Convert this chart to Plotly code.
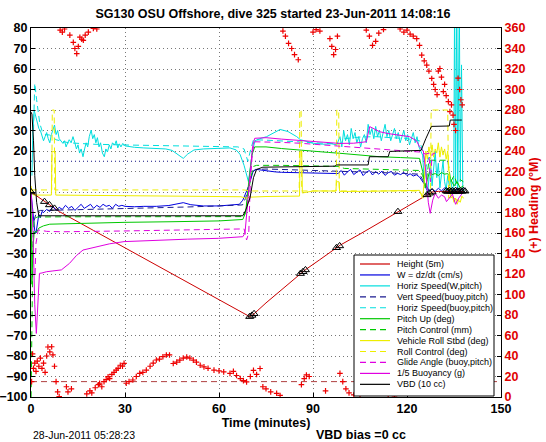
import plotly.graph_objects as go

# ---------------- data ----------------
TITLE = "SG130 OSU Offshore, dive 325 started 23-Jun-2011 14:08:16"
X_TICKS = [0, 30, 60, 90, 120, 150]

# Height (5m): (minutes, value)
HEIGHT = [(0, 0), (4.3, -4.7), (5.9, -6.3), (7.5, -8), (9.1, -9.6), (20, -18.8), (30, -27.2),
          (40, -35.7), (50, -44.1), (60, -52.6), (69.8, -60.8), (70.5, -60.2), (71.2, -59.4),
          (75, -54.1), (80, -47.6), (86.8, -38.9), (87.5, -38), (92, -33.2), (98, -26.7),
          (98.7, -25.9), (105, -20.5), (111.4, -14.8), (117.1, -9.6), (121, -6), (125.1, -2.3),
          (127.2, -0.6), (128, 0), (130, 0.3), (132, 0.2), (134, 0.4), (136, 0.3), (138.5, 0.2)]
# triangle markers on the height trace
HEIGHT_MARKS = [(0, 0), (4.3, -4.7), (5.9, -6.3), (7.5, -8), (69.8, -60.8), (70.5, -60.2),
                (71.2, -59.4), (86.0, -39.8), (86.8, -38.9), (87.6, -38), (97.5, -27.2),
                (98.5, -26.3), (117.1, -9.6), (126.4, -1.4), (127.2, -0.6), (128.0, 0),
                (132.5, 0.5), (133.0, 0.2), (133.5, 0.6), (134.0, 0.3), (134.5, 0.5), (135.0, 0.1),
                (135.5, 0.6), (136.0, 0.4), (136.5, 0.2), (137.0, 0.5), (137.5, 0.3), (138.0, 0.6),
                (138.5, 0.4)]

# W = dz/dt (cm/s)
W = [(0, 0), (0.4, -6), (0.8, -14), (1.2, -19), (1.6, -20), (2.0, -15), (2.5, -11), (3, -12.5),
     (3.5, -9.5), (4, -10), (5, -8.5), (6, -9.5), (7, -7), (8, -9), (9, -7.5), (10, -8.5),
     (11, -6.5), (12, -8), (13, -7), (14, -9), (15, -7.5), (16, -6), (17, -8), (18, -7),
     (19, -6), (20, -8), (21, -6.5), (22, -7.5), (23, -6), (24, -7), (25, -6.5), (26, -8),
     (27, -6), (28, -7), (29, -6.5), (30, -7), (33, -7.2), (36, -7), (40, -7), (44, -6.6),
     (46, -6), (48.6, -5.2), (51, -6.2), (55, -6.8), (60, -6.8), (64, -6.5), (66.5, -6),
     (67.6, -4), (68.5, -1), (69.4, 2.6), (70.2, 6.5), (70.9, 10.2), (72, 11), (74, 10.5),
     (76, 10), (78, 9.8), (80, 9.6), (83, 9.5), (86, 9.3), (89, 9.2), (92, 9), (95, 9.1),
     (98, 9), (99, 10.5), (100, 8.2), (101, 9.8), (102, 11), (103, 8.5), (104, 9.5),
     (105, 10.8), (106, 8), (107, 9.6), (108, 10.5), (109, 8.3), (110, 9.9), (111, 8.7),
     (112, 10.2), (113, 8.1), (114, 9.4), (115, 10), (116, 8.2), (117, 9.1), (118, 8.5),
     (119, 9.6), (120, 8), (121, 8.9), (122, 7.8), (123, 8.4), (124, 7.3), (125, 5),
     (125.6, 3.7), (126.3, 1), (127, 0.5), (128, 1.5), (129, 0.3), (130, 1.8), (131, 0.6),
     (132, 2), (133, 0.8), (134, 1.2), (135, 0.4), (136, 1.5), (137, 0.6), (138, 1.8)]

# Horiz Speed (W,pitch)
HSPD = [(0.3, 8), (0.6, 30), (1.0, 40), (1.5, 37), (2.0, 35), (2.5, 31), (3.0, 30), (3.5, 27),
        (4.0, 25), (4.5, 27), (5.0, 29), (5.5, 26), (6.0, 24), (6.5, 28), (7.0, 30), (7.5, 32.7),
        (8.0, 28), (8.5, 30), (9.0, 26), (9.5, 25), (10.2, 23.7), (10.7, 25), (11.2, 22),
        (11.7, 24), (12.2, 25.5), (12.8, 24), (13.4, 27), (14.0, 24), (14.5, 21), (15.0, 23),
        (15.5, 19), (16.0, 21), (16.6, 17.2), (17.1, 21), (17.6, 24), (18.1, 22), (18.6, 27),
        (19.2, 30.2), (19.7, 26), (20.2, 28), (20.7, 24), (21.2, 26.5), (21.7, 22), (22.2, 24),
        (22.8, 19), (23.4, 17.2), (23.9, 21), (24.4, 19.5), (25.0, 23), (25.5, 21), (26.0, 24),
        (26.7, 22.9), (27.2, 25), (27.7, 21.5), (28.2, 23.5), (28.7, 22), (29.3, 23.7),
        (30, 22.5), (33, 21.8), (36, 21.5), (40, 21.3), (43, 21), (45, 20.3), (47, 18.2),
        (48.6, 16.4), (50, 18.5), (52, 20.5), (55, 21), (60, 21.2), (63.5, 21.5), (65.5, 20.5),
        (66.7, 18.4), (68, 13), (69.4, 5), (70, 12), (70.7, 20), (71.5, 25), (73, 26),
        (75.2, 27), (77, 28.5), (79.5, 30.5), (82, 29.5), (84.8, 27), (86, 25.5), (88, 24.5),
        (90, 23.8), (93, 23.3), (96, 23.5), (97.6, 23), (98.6, 27), (99.2, 22), (99.8, 30),
        (100.4, 25), (101, 28), (101.6, 23), (102.2, 31), (102.8, 26), (103.4, 29), (104, 24),
        (104.6, 27), (105.2, 22), (105.8, 26), (106.4, 28), (107, 24), (107.6, 33), (108.2, 28),
        (108.8, 31), (109.4, 26), (110, 32), (110.6, 27), (111.2, 30), (111.8, 25), (112.4, 29),
        (113, 33), (113.6, 27), (114.2, 30), (114.8, 25), (115.4, 28), (116, 31), (116.6, 26),
        (117.2, 29), (117.8, 24), (118.4, 27), (119, 30), (119.6, 25), (120.2, 28), (120.8, 23),
        (121.4, 26), (122, 29), (122.6, 24), (123.2, 27), (123.8, 22), (124.4, 20), (125, 18),
        (125.5, 5), (126, 12), (126.5, -2), (127, 8), (127.5, 15), (128, 3), (128.5, 10),
        (129, 20), (129.5, 7), (130, 14), (130.5, 2), (131, 9), (131.5, 15), (132, 5),
        (132.5, 1), (133, 8), (133.5, 3), (134, 6), (134.5, 0), (134.9, 2), (135.2, 95),
        (135.5, 3), (135.9, 95), (136.2, 1), (136.7, 95), (137.0, 5), (137.4, 62), (137.8, 2),
        (138.2, 0)]

# Vert Speed (buoy,pitch)
VSPD_B = [(1.0, -14), (1.5, -11), (2.2, -9.5), (3, -9), (10, -8.8), (20, -8.5), (30, -8.2),
          (40, -7.8), (50, -7.3), (60, -6.8), (67.5, -6.3), (68.5, -3), (69.5, 3), (70.5, 9),
          (71.5, 11), (75, 11.2), (80, 11), (85, 10.8), (90, 10.5), (95, 10.3), (98, 10.2),
          (105, 9.8), (110, 9.5), (115, 9.3), (120, 9), (124, 8.7), (125, 6), (126, 3), (127, 1)]

# Horiz Speed (buoy,pitch)
HSPD_B = [(0.8, 30), (1.2, 53), (1.8, 45), (2.3, 38), (2.8, 33.5), (3.5, 30), (4.5, 28),
          (5.9, 27.8), (8, 25.5), (12, 24), (20, 23.3), (31.5, 22.9), (40, 22.6), (50, 22.4),
          (60, 22.2), (66, 22), (68, 21), (69.2, 15), (70, 20), (71, 25.5), (75, 25.3), (80, 25),
          (85, 24.5), (90, 24), (95, 23.5), (98.6, 23.5), (100, 26), (105, 26.8), (110, 27),
          (115, 26.5), (120, 26), (124, 25), (125, 20), (126, 12), (127, 17), (128, 16)]

# Pitch Up (deg)
PITCH = [(0, 0), (0.3, -45), (0.6, -28), (1.0, -20), (1.5, -19), (1.8, -19.7), (2.5, -17.6),
         (4, -16.5), (6, -15.7), (10, -15.5), (20, -15.2), (30, -14.8), (45, -14.5), (60, -14.1),
         (67.6, -13.4), (68.5, -10), (69.5, 5), (70.5, 18), (71.4, 22), (75, 22), (80, 21.2),
         (84.7, 20.5), (90, 19.8), (95, 19.3), (98.5, 18.9), (105, 18), (111.3, 17.2),
         (118, 16.8), (124, 16.4), (125, 10), (125.8, 2), (126.5, 6), (127.2, 10), (128, 8.5),
         (129, 9), (130, 8), (131, 9.5), (132, 8.7), (133, 9), (134, 6), (135, 3), (136, 5),
         (137, 2), (138, 3)]

# Pitch Control (mm)
PITCH_CTL = [(0, -105), (0.3, -60), (0.6, -25), (1.0, -13), (2, -12.2), (10, -12.1), (30, -12.1),
             (60, -12), (68, -12), (69, -6), (70, 6), (71, 12.5), (72, 13), (80, 13), (90, 12.8),
             (98, 12.5), (100, 11.5), (110, 11), (120, 10.8), (124, 10.5), (125, 8), (126, 3),
             (127, 15.5), (133, 15.5), (134, 5), (135, 8), (136, 4), (137, 6), (138, 5)]

# Vehicle Roll Stbd (deg)
ROLL = [(0, 3), (0.5, -1), (1, -1.5), (3, -1.5), (6.5, -1.5), (6.7, 19.7), (7.7, 19.7),
        (7.9, -1.5), (15, -1.5), (30, -1.8), (45, -2), (60, -2.2), (67, -2.3), (68.5, -3),
        (70, -2.5), (75, -2.2), (80, -2), (85.7, -2), (85.9, 19.9), (86.4, 19.9), (86.6, -0.5),
        (90, 0.5), (97.3, 0.5), (97.5, 5), (98.3, 5), (98.5, 0.3), (105, 0.3), (110, 0.5),
        (115, 0.5), (120, 1), (124, 0.8), (125, -3), (125.5, 5), (126, 20), (126.5, 16),
        (127, 22), (127.5, 18), (128, 23), (128.5, 17), (129, 21), (129.5, 19), (130, 24),
        (130.5, 17), (131, 22), (131.5, 18), (132, 21), (132.5, 16), (133, 20), (133.5, 5),
        (134, -3), (134.5, -2), (135, -5), (135.5, -3), (136, -6), (136.5, -4), (137, -5),
        (137.5, -2), (138, -3)]

# Roll Control (deg)
ROLL_CTL = [(0, 1), (6.6, 1), (6.8, 40), (7.4, 40), (7.6, 1), (68, 1), (70, 0.5), (85.6, 0.5),
            (85.8, 40), (86.2, 40), (86.4, 0.5), (97.4, 0.5), (97.6, 40), (98.2, 40), (98.4, 0.5),
            (124, 0.5), (125, -2), (127.5, -2), (127.7, 40), (133, 40), (133.3, -3), (134, -2),
            (136, -4), (138, -3)]

# Glide Angle (buoy,pitch)
GLIDE = [(1.3, -40), (1.6, -25), (2.3, -18.5), (5, -19.2), (10, -19.4), (20, -19.3), (30, -19),
         (45, -18.6), (60, -18.3), (68, -18), (68.8, -23.4), (69.5, -20), (70, 5), (70.7, 20),
         (71.5, 24.5), (75, 24.5), (80, 24.2), (85.7, 23.8), (90, 23.3), (95, 22.8),
         (98.5, 22.3), (105, 21.5), (110, 21), (115, 20.5), (120, 20), (124, 19.5), (125, 19),
         (126, 18.5), (127, 19), (127.5, 5), (128, 18.4), (129, 19)]

# 1/5 Buoyancy (g)
BUOY = [(0, 0), (0.4, -8), (0.8, -30), (1.2, -55), (1.7, -69), (2.2, -50), (2.7, -39.7),
        (3.5, -39.5), (4.9, -38.9), (7, -38.5), (9.7, -38), (12.3, -34.8), (14.5, -31),
        (16.6, -28.3), (20.8, -26.7), (25, -25.3), (29.7, -24.2), (35, -23.8), (42.1, -23.4),
        (50, -23), (59.8, -22.6), (67.6, -21.8), (68.3, -20), (69.2, -5), (70, 12), (70.7, 22),
        (71.4, 26.2), (75, 26.5), (80, 25.8), (85, 25.2), (90, 24.6), (95, 24.1), (98.5, 23.7),
        (103, 23.8), (107, 24.5), (108.1, 31.9), (110, 30.5), (111.3, 29.4), (114, 28.5),
        (116.6, 27.8), (120.8, 27), (123, 25), (124, 22.1), (125.2, 20), (126, 10), (126.8, -5),
        (127.4, -10.4), (128.2, -4), (129, -0.6), (130, -3), (131, -1.5), (132, -2.3),
        (132.6, -4.7), (133.5, -3), (134.5, -1), (135.5, -6), (136.5, -3), (137.5, -1), (138, 0)]

# VBD (10 cc)
VBD = [(0, 39), (0.3, 38), (0.8, 25), (1.2, 8), (1.8, -5), (2.5, -11.6), (10, -11.6),
       (30, -11.6), (60, -11.6), (67.6, -11.6), (68.5, -9), (69.9, -2.8), (71, 7), (72, 11),
       (74, 12.1), (80, 12.3), (90, 12.3), (97, 12.6), (97.5, 13.2), (107.6, 13.2), (108, 17.2),
       (114, 17.2), (114.5, 19.8), (124.5, 20.3), (126, 26), (127.8, 32), (133.5, 32.2),
       (133.8, 35.1), (137.5, 35.1)]

# (+) Heading (deg M), right axis
HEADING = [(0.2, 15), (0.5, 42), (0.8, 28), (1.2, 33), (1.6, 25), (2.0, 35), (2.5, 30), (3.0, 38),
           (3.5, 28), (4.0, 33), (4.5, 24), (5.0, 40), (5.4, 48.8), (6.0, 44), (6.6, 49),
           (7.0, 41), (7.5, 30), (8.0, 15), (8.5, 5), (9.0, 0.5), (9.3, 358), (10.0, 356),
           (10.7, 359), (11.3, 10), (11.8, 5), (12.4, 353), (12.9, 8), (13.5, 346), (14.0, 340),
           (14.6, 335), (15.1, 342), (15.6, 351), (16.2, 349), (16.7, 348), (17.3, 353),
           (17.8, 3), (18.3, 356), (18.8, 6), (19.4, 4), (19.9, 359.5), (20.5, 9), (21.0, 359),
           (21.5, 12), (21.9, 13.4), (22.6, 10), (23.3, 15), (24.0, 17), (24.6, 19.8),
           (25.1, 18), (25.8, 22), (26.5, 24), (27.2, 26.3), (27.8, 28), (28.5, 31), (29.2, 30),
           (29.7, 32.8), (30.4, 13.4), (31.3, 15), (32.5, 16.6), (33.6, 20), (34.7, 23.1),
           (35.7, 24), (36.8, 26.3), (38, 30), (39, 33), (40, 36.1), (41, 37), (42.1, 39.3),
           (43.2, 41), (44.2, 41), (45.4, 32.7), (46.5, 34), (47.5, 36), (48.6, 38), (49.7, 39),
           (50.7, 38), (51.8, 36), (52.8, 34), (54, 31), (55.2, 29.4), (56.5, 28), (58.4, 26.2),
           (60, 25.5), (61.5, 24.5), (63.5, 23), (64.6, 25), (65.6, 21), (66.8, 18), (67.8, 16),
           (68.8, 14.8), (70, 20), (71, 26), (72, 22), (73.1, 27.8), (74, 10), (75, 8),
           (76.5, 5), (78.4, 3.6), (79.5, 1.5), (80.4, 357), (81.2, 352), (82.2, 345),
           (83.2, 340), (84.1, 334), (85.3, 329), (86.3, 12), (87.2, 18), (87.9, 21.5),
           (88.8, 20), (90.0, 356), (91.0, 358.5), (92.2, 357), (94.0, 6), (95.4, 349.6),
           (96.0, 342), (96.6, 334), (97.2, 339), (97.8, 352), (98.6, 23), (99.5, 15),
           (100.5, 8), (101.5, 4), (103, 2), (105, 1.5), (107, 358), (108, 352), (109, 343),
           (110, 347), (111, 355), (112.5, 358.5), (114, 2), (116, 1), (117.8, 359), (119, 356),
           (120, 358), (121, 354), (122, 352), (123.1, 349.6), (124, 343), (124.7, 333.5),
           (125.5, 328), (126.3, 323.8), (127, 318), (127.9, 310.8), (128.5, 305), (129, 300),
           (129.6, 295), (130, 318), (130.5, 320.5), (131, 312), (131.6, 298), (132, 305),
           (132.5, 294), (133.2, 288.2), (133.7, 278.5), (134.2, 285), (134.7, 275), (135, 266),
           (135.5, 260), (136.3, 311), (136.8, 300), (137.2, 290), (137.6, 285)]

# reference lines
HEAD_REF_T = [0, 150]
HEAD_REF_V = [15, 15]
W_REF_T = [0, 150]
W_REF_V = [15, 15]

LEGEND_LABELS = ["Height (5m)", "W = dz/dt (cm/s)", "Horiz Speed(W,pitch)",
                 "Vert Speed(buoy,pitch)", "Horiz Speed(buoy,pitch)", "Pitch Up (deg)",
                 "Pitch Control (mm)", "Vehicle Roll Stbd (deg)", "Roll Control (deg)",
                 "Glide Angle (buoy,pitch)", "1/5 Buoyancy (g)", "VBD (10 cc)"]

# ---------------- figure ----------------
FONT = "Liberation Sans, Arial, Helvetica, sans-serif"
W_PX, H_PX = 546, 442
ML, MR, MT, MB = 31, 45, 28, 45
PW, PH = W_PX - ML - MR, H_PX - MT - MB


def fx(px):
    return (px - ML) / PW


def fy(py):
    return (H_PX - MB - py) / PH


def split(pts):
    return [p[0] for p in pts], [p[1] for p in pts]


BLUE = "#0000e0"
NAVY = "#1a1a90"
CYAN = "#00dede"
GREEN = "#00c800"
YELLOW = "#eeee00"
MAGENTA = "#e000e0"
BLACK = "#000000"
DASH = "6px,4px"

series = [
    (HEIGHT, "#cc0000", "solid"),
    (W, BLUE, "solid"),
    (HSPD, CYAN, "solid"),
    (VSPD_B, NAVY, DASH),
    (HSPD_B, CYAN, DASH),
    (PITCH, GREEN, "solid"),
    (PITCH_CTL, GREEN, DASH),
    (ROLL, YELLOW, "solid"),
    (ROLL_CTL, YELLOW, DASH),
    (GLIDE, MAGENTA, DASH),
    (BUOY, MAGENTA, "solid"),
    (VBD, BLACK, "solid"),
]

fig = go.Figure()

# reference lines (drawn first)
fig.add_trace(go.Scatter(x=W_REF_T, y=W_REF_V, mode="lines",
                         line=dict(color="#101080", width=1, dash="1px,3px"),
                         showlegend=False, hoverinfo="skip"))

for (pts, col, dash), name in zip(series, LEGEND_LABELS):
    xs, ys = split(pts)
    fig.add_trace(go.Scatter(x=xs, y=ys, mode="lines", name=name,
                             line=dict(color=col, width=1, dash=dash), showlegend=False))

mx, my = split(HEIGHT_MARKS)
fig.add_trace(go.Scatter(x=mx, y=my, mode="markers", showlegend=False,
                         marker=dict(symbol="triangle-up-open", size=7, color=BLACK,
                                     line=dict(width=1, color=BLACK))))

fig.add_trace(go.Scatter(x=HEAD_REF_T, y=HEAD_REF_V, yaxis="y2", mode="lines",
                         line=dict(color="#b04040", width=1, dash=DASH),
                         showlegend=False, hoverinfo="skip"))
hx, hy = split(HEADING)
fig.add_trace(go.Scatter(x=hx, y=hy, yaxis="y2", mode="markers", showlegend=False,
                         marker=dict(symbol="cross-thin-open", size=4, color="#ee0000",
                                     line=dict(width=1.2, color="#ee0000"))))

axis_font = dict(family=FONT, size=12.5, color="black", weight="bold")
grid = dict(showgrid=True, gridcolor="#777777", gridwidth=1, griddash="1px,3px")

fig.update_layout(
    width=W_PX, height=H_PX,
    margin=dict(l=ML, r=MR, t=MT, b=MB, autoexpand=False),
    paper_bgcolor="white", plot_bgcolor="white",
    showlegend=False,
    title=dict(text=TITLE, x=fx(266), xanchor="center", y=1 - 14 / H_PX, yanchor="middle",
               font=dict(family=FONT, size=12.5, color="black", weight="bold")),
    xaxis=dict(range=[0, 150], tickvals=X_TICKS, ticks="inside", ticklen=4, tickcolor="black",
               showline=True, linecolor="black", linewidth=1, mirror=True, zeroline=False,
               tickfont=axis_font,
               title=dict(text="Time (minutes)", font=axis_font, standoff=2), **grid),
    yaxis=dict(range=[-100, 80], dtick=10, tick0=0, ticks="inside", ticklen=4,
               tickcolor="black", showline=True, linecolor="black", linewidth=1,
               zeroline=False, tickfont=axis_font, **grid),
    yaxis2=dict(range=[0, 360], dtick=20, tick0=0, overlaying="y", side="right",
                ticks="inside", ticklen=4, tickcolor="black", showline=True,
                linecolor="black", linewidth=1, showgrid=False, zeroline=False,
                tickfont=dict(family=FONT, size=12.5, color="#e00000", weight="bold")),
)

# right-axis label
fig.add_annotation(xref="paper", yref="paper", x=fx(534), y=fy(205), text="(+) Heading (°M)",
                   textangle=-90, showarrow=False, xanchor="center", yanchor="middle",
                   font=dict(family=FONT, size=12.5, color="#e00000", weight="bold"))
# footer texts
fig.add_annotation(xref="paper", yref="paper", x=fx(31), y=fy(435), text="28-Jun-2011 05:28:23",
                   showarrow=False, xanchor="left", yanchor="middle",
                   font=dict(family=FONT, size=10.5, color="black"))
fig.add_annotation(xref="paper", yref="paper", x=fx(314), y=fy(435), text="VBD bias =0 cc",
                   showarrow=False, xanchor="left", yanchor="middle",
                   font=dict(family=FONT, size=12.5, color="black", weight="bold"))

# hand-drawn legend box (MATLAB style, compact)
LEG_L, LEG_R, LEG_T, LEG_B = 354, 494, 255, 396
fig.add_shape(type="rect", xref="paper", yref="paper", x0=fx(LEG_L), x1=fx(LEG_R),
              y0=fy(LEG_B), y1=fy(LEG_T), fillcolor="white",
              line=dict(color="black", width=1), layer="above")
for i, ((pts, col, dash), name) in enumerate(zip(series, LEGEND_LABELS)):
    yc = 264 + 10.94 * i
    fig.add_shape(type="line", xref="paper", yref="paper", x0=fx(360), x1=fx(390),
                  y0=fy(yc), y1=fy(yc), line=dict(color=col, width=1.2, dash=dash),
                  layer="above")
    fig.add_annotation(xref="paper", yref="paper", x=fx(395), y=fy(yc), text=name,
                       showarrow=False, xanchor="left", yanchor="middle",
                       font=dict(family=FONT, size=9, color="black"))

fig.write_html("out.html", config={"displayModeBar": False},
               post_script="document.body.style.margin='0px';document.body.style.padding='0px';")
